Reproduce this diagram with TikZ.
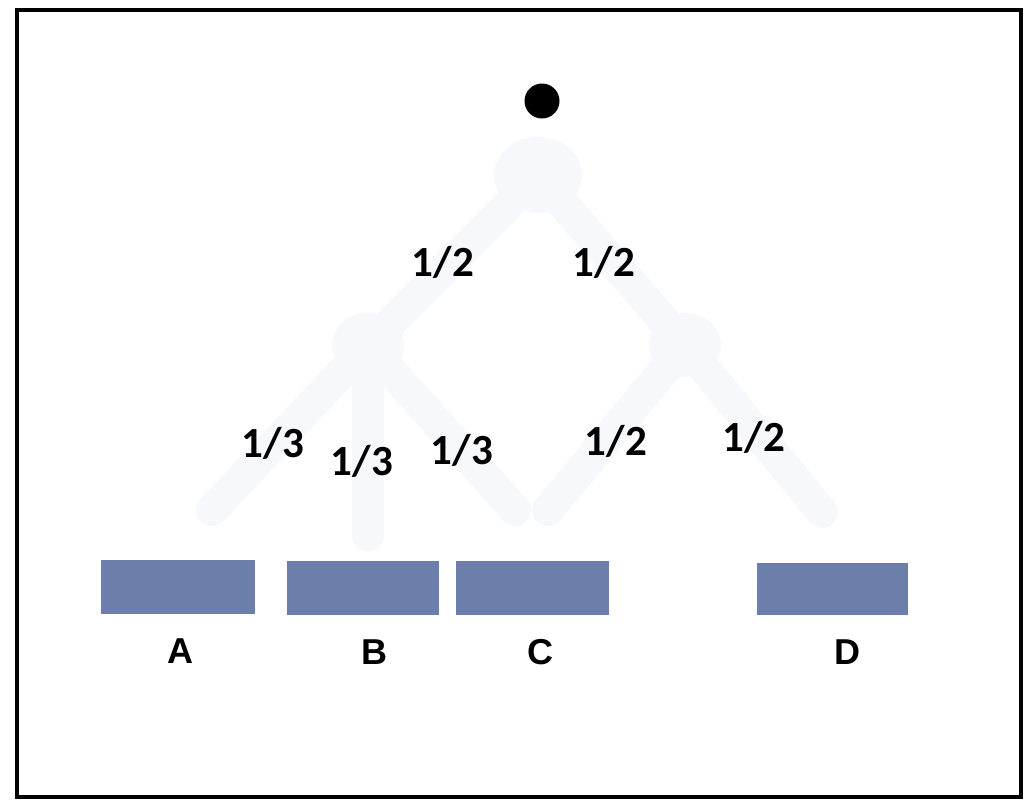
\documentclass[tikz,border=0pt]{standalone}
\usepackage{fontspec}
\setmainfont{Carlito}
\newfontfamily\lettfont{Liberation Sans}
\definecolor{boxblue}{RGB}{107,127,170}
\definecolor{faint}{RGB}{246,248,252}
\tikzset{
  leafbox/.style={fill=boxblue, draw=none, minimum width=154pt, minimum height=54pt, inner sep=0pt},
  prob/.style={font=\fontsize{43}{45}\selectfont\bfseries, inner sep=0pt},
  lett/.style={font=\lettfont\fontsize{36}{38}\selectfont\bfseries, inner sep=0pt},
  branch/.style={draw=faint, line width=32pt, line cap=round},
}
\begin{document}
\begin{tikzpicture}[x=1pt,y=-1pt]
\useasboundingbox (0,0) rectangle (1033,801);
% frame
\node[draw=black, line width=4pt, minimum width=1004pt, minimum height=787pt, inner sep=0pt] (frame) at (519,403) {};
% internal tree points
\coordinate (top) at (538,175);
\coordinate (L) at (368,345);
\coordinate (R) at (685,345);
\coordinate (la) at (212,510);
\coordinate (lb) at (368,535);
\coordinate (lc) at (515,510);
\coordinate (rc) at (548,510);
\coordinate (rd) at (822,512);
% faint branches
\draw[branch] (top) -- (L);
\draw[branch] (top) -- (R);
\draw[branch] (L) -- (la);
\draw[branch] (L) -- (lb);
\draw[branch] (L) -- (lc);
\draw[branch] (R) -- (rc);
\draw[branch] (R) -- (rd);
\fill[faint] (top) ellipse (44pt and 38pt);
\fill[faint] (L) ellipse (36pt and 32pt);
\fill[faint] (R) ellipse (36pt and 32pt);
% root dot
\node[circle, fill=black, minimum size=35pt, inner sep=0pt] (root) at (542,101) {};
% probability labels
\node[prob] (p1) at (443,262) {1/2};
\node[prob] (p2) at (604,262) {1/2};
\node[prob] (p3) at (273,443) {1/3};
\node[prob] (p4) at (362,461) {1/3};
\node[prob] (p5) at (462,450) {1/3};
\node[prob] (p6) at (616,441) {1/2};
\node[prob] (p7) at (754,437) {1/2};
% leaf boxes
\node[leafbox] (bA) at (178,587) {};
\node[leafbox, minimum width=152pt] (bB) at (363,588) {};
\node[leafbox, minimum width=153pt] (bC) at (532,588) {};
\node[leafbox, minimum width=151pt, minimum height=52pt] (bD) at (832,589) {};
% letters
\node[lett] (A) at (180,651) {A};
\node[lett] (B) at (374,652) {B};
\node[lett] (C) at (540,652) {C};
\node[lett] (D) at (847,652) {D};
\end{tikzpicture}
\end{document}
